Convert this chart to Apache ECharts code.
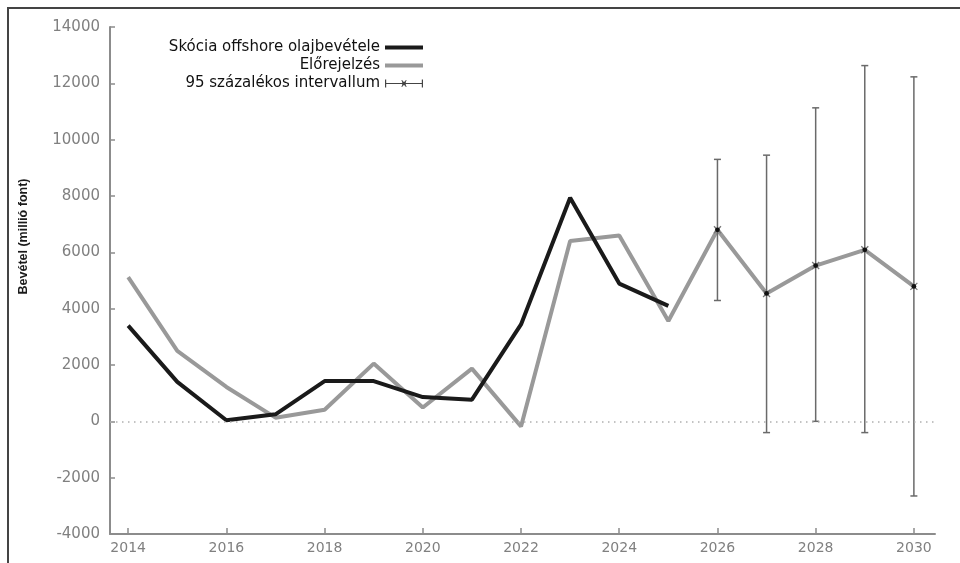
<!DOCTYPE html>
<html>
<head>
<meta charset="utf-8">
<script src="https://cdn.jsdelivr.net/npm/echarts@6/dist/echarts.min.js"></script>
<style>
html, body { margin: 0; padding: 0; background: #fff; }
#chart { width: 960px; height: 563px; }
</style>
</head>
<body>
<div id="chart"></div>
<script>
// years on the x axis
var years = [2014, 2015, 2016, 2017, 2018, 2019, 2020, 2021, 2022, 2023, 2024, 2025, 2026, 2027, 2028, 2029, 2030];
var yearTicks = [2014, 2016, 2018, 2020, 2022, 2024, 2026, 2028, 2030];

// Skócia offshore olajbevétele (2014-2025)
var actual = [3400, 1400, 40, 250, 1430, 1430, 860, 770, 3440, 7940, 4890, 4100];
// Előrejelzés (2014-2030)
var forecast = [5120, 2500, 1220, 130, 410, 2050, 490, 1870, -180, 6400, 6600, 3560, 6800, 4540, 5530, 6090, 4790];
// 95% intervallum
var ciYears = [2026, 2027, 2028, 2029, 2030];
var ciLow = [4290, -400, 0, -400, -2650];
var ciHigh = [9300, 9450, 11130, 12630, 12230];

var actualData = actual.map(function (v, i) { return [years[i], v]; });
var forecastData = forecast.map(function (v, i) { return [years[i], v]; });
var ciData = ciYears.map(function (y, i) {
    return [y, ciLow[i], ciHigh[i], forecast[years.indexOf(y)]];
});

var myChart = echarts.init(document.getElementById('chart'));

var tickFont = 'DejaVu Sans';
var axisGray = '#8c8c8c';

var option = {
    animation: false,
    backgroundColor: '#fff',
    grid: {
        left: 110,
        right: 25,
        top: 27,
        bottom: 29
    },
    legend: {
        orient: 'vertical',
        align: 'right',
        right: 530,
        top: 35,
        itemWidth: 38,
        itemHeight: 8,
        itemGap: 3,
        textStyle: {
            fontFamily: tickFont,
            fontSize: 15,
            color: '#111'
        },
        data: [
            {
                name: 'Skócia offshore olajbevétele',
                itemStyle: { opacity: 0 },
                lineStyle: { width: 4, color: '#1a1a1a' }
            },
            {
                name: 'Előrejelzés',
                itemStyle: { opacity: 0 },
                lineStyle: { width: 4, color: '#999999' }
            },
            {
                name: '95 százalékos intervallum',
                icon: 'path://M0,3.4H38V4.6H0Z M0,0H1.2V8H0Z M36.8,0H38V8H36.8Z M17.2,2.2H20.8V5.8H17.2Z M16.2,0.8L17.4,0.8L21.8,7.2L20.6,7.2Z M20.6,0.8L21.8,0.8L17.4,7.2L16.2,7.2Z',
                itemStyle: { color: '#444' }
            }
        ]
    },
    xAxis: {
        type: 'value',
        min: 2013.63,
        max: 2030.43,
        axisLine: {
            onZero: false,
            lineStyle: { color: axisGray, width: 2 }
        },
        axisTick: {
            inside: true,
            length: 6,
            customValues: yearTicks,
            lineStyle: { color: axisGray, width: 1.5 }
        },
        axisLabel: {
            customValues: yearTicks,
            margin: 7,
            fontFamily: tickFont,
            fontSize: 14,
            color: '#808080',
            formatter: function (v) { return String(v); }
        },
        splitLine: { show: false }
    },
    yAxis: {
        type: 'value',
        min: -4000,
        max: 14000,
        interval: 2000,
        name: 'Bevétel (millió font)',
        nameLocation: 'middle',
        nameGap: 80,
        nameTextStyle: {
            fontFamily: 'Liberation Sans Narrow, Liberation Sans',
            fontWeight: 'bold',
            fontSize: 12.5,
            color: '#1a1a1a',
            padding: [0, 0, 0, 88]
        },
        axisLine: {
            show: true,
            lineStyle: { color: axisGray, width: 2 }
        },
        axisTick: {
            show: true,
            inside: true,
            length: 5,
            lineStyle: { color: axisGray, width: 1.5 }
        },
        axisLabel: {
            margin: 10,
            fontFamily: tickFont,
            fontSize: 15,
            color: '#808080',
            formatter: function (v) { return String(v); }
        },
        splitLine: { show: false }
    },
    graphic: [
        {
            type: 'polyline',
            shape: { points: [[8, 563], [8, 8], [960, 8]] },
            style: { stroke: '#444', lineWidth: 2, fill: null },
            silent: true
        }
    ],
    series: [
        {
            name: 'Előrejelzés',
            type: 'line',
            data: forecastData,
            symbol: 'none',
            z: 2,
            lineStyle: { color: '#999999', width: 4 },
            itemStyle: { color: '#999999' },
            markLine: {
                silent: true,
                symbol: 'none',
                label: { show: false },
                lineStyle: { color: '#b0b0b0', width: 1.5, type: [1.5, 4.5] },
                data: [{ yAxis: 0 }]
            }
        },
        {
            name: 'Skócia offshore olajbevétele',
            type: 'line',
            data: actualData,
            symbol: 'none',
            z: 3,
            lineStyle: { color: '#1a1a1a', width: 4 },
            itemStyle: { color: '#1a1a1a' }
        },
        {
            name: '95 százalékos intervallum',
            type: 'custom',
            data: ciData,
            z: 4,
            itemStyle: { color: '#444' },
            encode: { x: 0, y: [1, 2, 3] },
            renderItem: function (params, api) {
                var x = api.value(0);
                var lo = api.coord([x, api.value(1)]);
                var hi = api.coord([x, api.value(2)]);
                var mid = api.coord([x, api.value(3)]);
                var cap = 3.5;
                var s = 3.5;
                var ls = { stroke: '#6a6a6a', lineWidth: 1.5 };
                return {
                    type: 'group',
                    children: [
                        { type: 'line', shape: { x1: hi[0], y1: hi[1], x2: lo[0], y2: lo[1] }, style: ls },
                        { type: 'line', shape: { x1: hi[0] - cap, y1: hi[1], x2: hi[0] + cap, y2: hi[1] }, style: ls },
                        { type: 'line', shape: { x1: lo[0] - cap, y1: lo[1], x2: lo[0] + cap, y2: lo[1] }, style: ls },
                        { type: 'line', shape: { x1: mid[0] - s, y1: mid[1] - s, x2: mid[0] + s, y2: mid[1] + s }, style: { stroke: '#777', lineWidth: 1.3 } },
                        { type: 'line', shape: { x1: mid[0] - s, y1: mid[1] + s, x2: mid[0] + s, y2: mid[1] - s }, style: { stroke: '#777', lineWidth: 1.3 } },
                        { type: 'circle', shape: { cx: mid[0], cy: mid[1], r: 2.4 }, style: { fill: '#111' } }
                    ]
                };
            }
        }
    ]
};
myChart.setOption(option);
</script>
</body>
</html>
